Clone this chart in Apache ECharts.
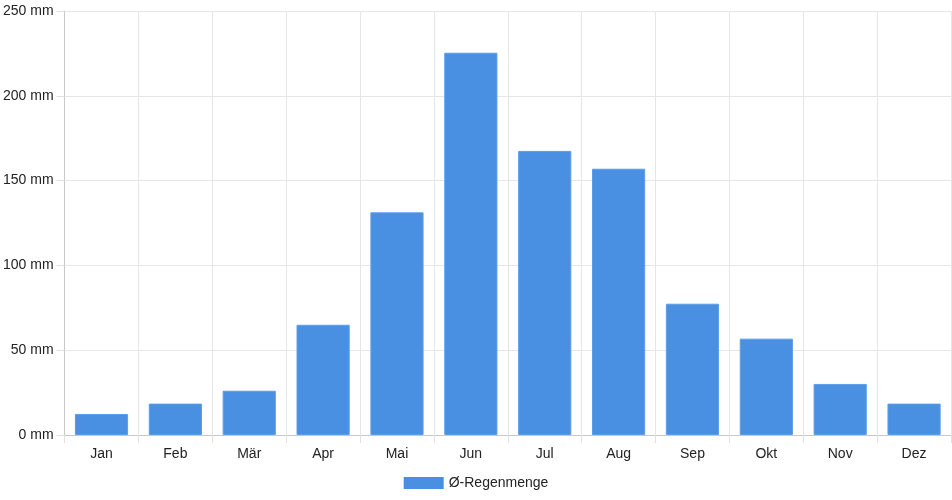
<!DOCTYPE html>
<html>
<head>
<meta charset="utf-8">
<style>html,body{margin:0;padding:0;background:#fff}#c{width:952px;height:500px}</style>
<script src="https://cdn.jsdelivr.net/npm/echarts@6/dist/echarts.min.js"></script>
</head>
<body>
<div id="c"></div>
<script>
const categories = ['Jan','Feb','Mär','Apr','Mai','Jun','Jul','Aug','Sep','Okt','Nov','Dez'];
const rainfall = [12.4, 18.5, 26.1, 65.0, 131.3, 225.4, 167.5, 157.0, 77.4, 56.8, 30.1, 18.5];
const seriesName = 'Ø-Regenmenge';
const yMin = 0, yMax = 250, yStep = 50;

const FONT = 'Liberation Sans, Arial, sans-serif';
const chart = echarts.init(document.getElementById('c'));
chart.setOption({
  animation: false,
  textStyle: { fontFamily: FONT },
  grid: { left: 64, right: 1, top: 11, bottom: 65, containLabel: false },
  legend: {
    data: [seriesName], top: 471, left: 'center',
    itemWidth: 40, itemHeight: 12, itemGap: 10,
    icon: 'rect',
    itemStyle: { borderWidth: 0 },
    textStyle: { color: '#222', fontSize: 14, fontFamily: FONT }
  },
  xAxis: {
    type: 'category', data: categories, boundaryGap: true,
    axisLine: { lineStyle: { color: '#c8c8c8' } },
    axisTick: { show: true, interval: 0, length: 8, lineStyle: { color: '#e0e0e0' } },
    splitLine: { show: true, interval: 0, lineStyle: { color: '#e6e6e6' } },
    axisLabel: { color: '#222', fontSize: 14, margin: 12, interval: 0 }
  },
  yAxis: {
    type: 'value', min: yMin, max: yMax, interval: yStep,
    axisLine: { show: true, lineStyle: { color: '#c8c8c8' } },
    axisTick: { show: true, length: 8, lineStyle: { color: '#e0e0e0' } },
    splitLine: { show: true, lineStyle: { color: '#e6e6e6' } },
    axisLabel: { color: '#222', fontSize: 14, margin: 11, formatter: '{value} mm' }
  },
  series: [{
    name: seriesName, type: 'bar', data: rainfall,
    barCategoryGap: '28%',
    itemStyle: { color: '#4a90e2', borderColor: '#5d9de8', borderWidth: 1 }
  }]
});
</script>
</body>
</html>
